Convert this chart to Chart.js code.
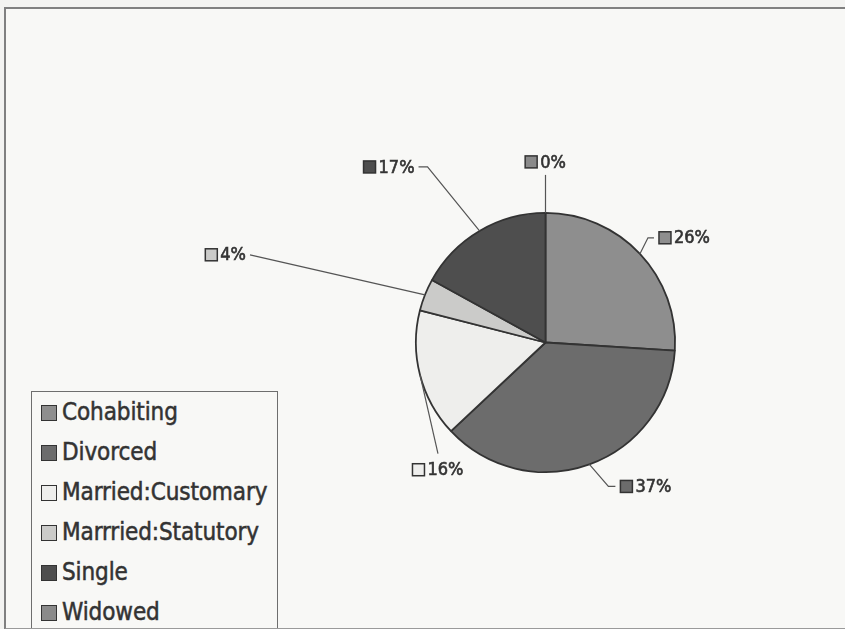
<!DOCTYPE html>
<html>
<head>
<meta charset="utf-8">
<script src="https://cdn.jsdelivr.net/npm/chart.js@4.4.1/dist/chart.umd.min.js"></script>
<style>
  body { margin: 0; background: #f3f3f1; width: 845px; height: 629px; overflow: hidden; position: relative; }
  .frame { position: absolute; left: 4px; top: 7px; width: 860px; height: 619px;
           border-top: 2px solid #808080; border-left: 2px solid #808080; border-bottom: 2px solid #9a9a9a;
           background: #f8f8f6; }
  .holder { position: absolute; left: 0; top: 0; width: 845px; height: 629px; }
  .legend { position: absolute; left: 31px; top: 391px; width: 245px; height: 236px;
            border: 1.5px solid #6e6e6e; border-bottom: none; background: #f8f8f6;
            font-family: "DejaVu Sans Condensed", "DejaVu Sans", sans-serif; font-stretch: condensed;
            font-size: 24px; color: #333; -webkit-text-stroke: 0.5px #333; }
  .legend div { height: 40px; line-height: 40px; white-space: nowrap; padding-left: 9px; letter-spacing: -0.1px; }
  .legend span { display: inline-block; width: 14px; height: 14px; border: 1.5px solid #333;
                 margin-right: 5px; vertical-align: -1px; -webkit-text-stroke: 0; }
</style>
</head>
<body>
<div class="frame"></div>
<div class="holder"><canvas id="pie"></canvas></div>
<div class="legend" id="legend"></div>
<script>
// marital status shares, in percent
const categories = ["Cohabiting", "Divorced", "Married:Customary", "Marrried:Statutory", "Single", "Widowed"];
const shares = [26, 37, 16, 4, 17, 0];
const shareLabels = ["26%", "37%", "16%", "4%", "17%", "0%"];

const fills = ["#8e8e8e", "#6c6c6c", "#eeeeec", "#cbcbc9", "#4e4e4e", "#8a8a8a"];

// where each callout sits, relative to the slice edge midpoint
const callouts = [
    { dx: 8, dy: -16, side: "right", tail: 6 },
    { dx: 19, dy: 22, side: "right", tail: 7 },
    { dx: 18, dy: 79, side: "bottom", tail: 0 },
    { dx: -175, dy: -40, side: "left", tail: 0 },
    { dx: -52, dy: -64, side: "left", tail: 9 },
    { dx: 0, dy: -38, side: "top", tail: 0 }
];

let legendHtml = '';
categories.forEach((c, i) => {
    legendHtml += `<div><span style="background:${fills[i]}"></span>${c}</div>`;
});
document.getElementById("legend").innerHTML = legendHtml;

const calloutPlugin = {
    id: 'callouts',
    afterDatasetsDraw(chart){
        const ctx = chart.ctx;
        const arcs = chart.getDatasetMeta(0).data;
        ctx.save();
        ctx.font = '18px "DejaVu Sans Condensed", "DejaVu Sans", sans-serif';
        ctx.textBaseline = 'middle';
        arcs.forEach((arc, i) => {
            const p = arc.getProps(['x', 'y', 'startAngle', 'endAngle', 'outerRadius'], true);
            const mid = (p.startAngle + p.endAngle) / 2;
            const ex = p.x + Math.cos(mid) * p.outerRadius;
            const ey = p.y + Math.sin(mid) * p.outerRadius;
            const c = callouts[i];
            const bx = ex + c.dx, by = ey + c.dy;
            let tx = bx;
            if (c.side === 'right') tx = bx + c.tail;
            if (c.side === 'left') tx = bx - c.tail;
            ctx.strokeStyle = '#555';
            ctx.lineWidth = 1.2;
            ctx.beginPath();
            ctx.moveTo(ex, ey);
            ctx.lineTo(bx, by);
            ctx.lineTo(tx, by);
            ctx.stroke();

            const text = shareLabels[i];
            const box = 12, gap = 3;
            const w = box + gap + ctx.measureText(text).width;
            let lx, ly;
            if (c.side === 'right') { lx = tx + 5; ly = by; }
            else if (c.side === 'left') { lx = tx - 4 - w; ly = by; }
            else if (c.side === 'top') { lx = bx - w / 2; ly = by - 13; }
            else { lx = bx - w / 2; ly = by + 16; }
            ctx.fillStyle = fills[i];
            ctx.fillRect(lx, ly - box / 2, box, box);
            ctx.strokeStyle = '#333';
            ctx.lineWidth = 1.5;
            ctx.strokeRect(lx, ly - box / 2, box, box);
            ctx.fillStyle = '#333';
            ctx.strokeStyle = '#333';
            ctx.lineWidth = 0.6;
            ctx.textAlign = 'left';
            ctx.fillText(text, lx + box + gap, ly + 1);
            ctx.strokeText(text, lx + box + gap, ly + 1);
        });
        ctx.restore();
    }
};

new Chart(document.getElementById("pie"), {
    type: 'pie',
    data: {
        labels: categories,
        datasets: [{
            data: shares,
            backgroundColor: fills,
            borderColor: '#333',
            borderWidth: 1.8
        }]
    },
    options: {
        responsive: true,
        maintainAspectRatio: false,
        animation: false,
        layout: { padding: { left: 415, right: 169, top: 212, bottom: 156 } },
        plugins: {
            legend: { display: false },
            tooltip: { enabled: false }
        }
    },
    plugins: [calloutPlugin]
});
</script>
</body>
</html>
